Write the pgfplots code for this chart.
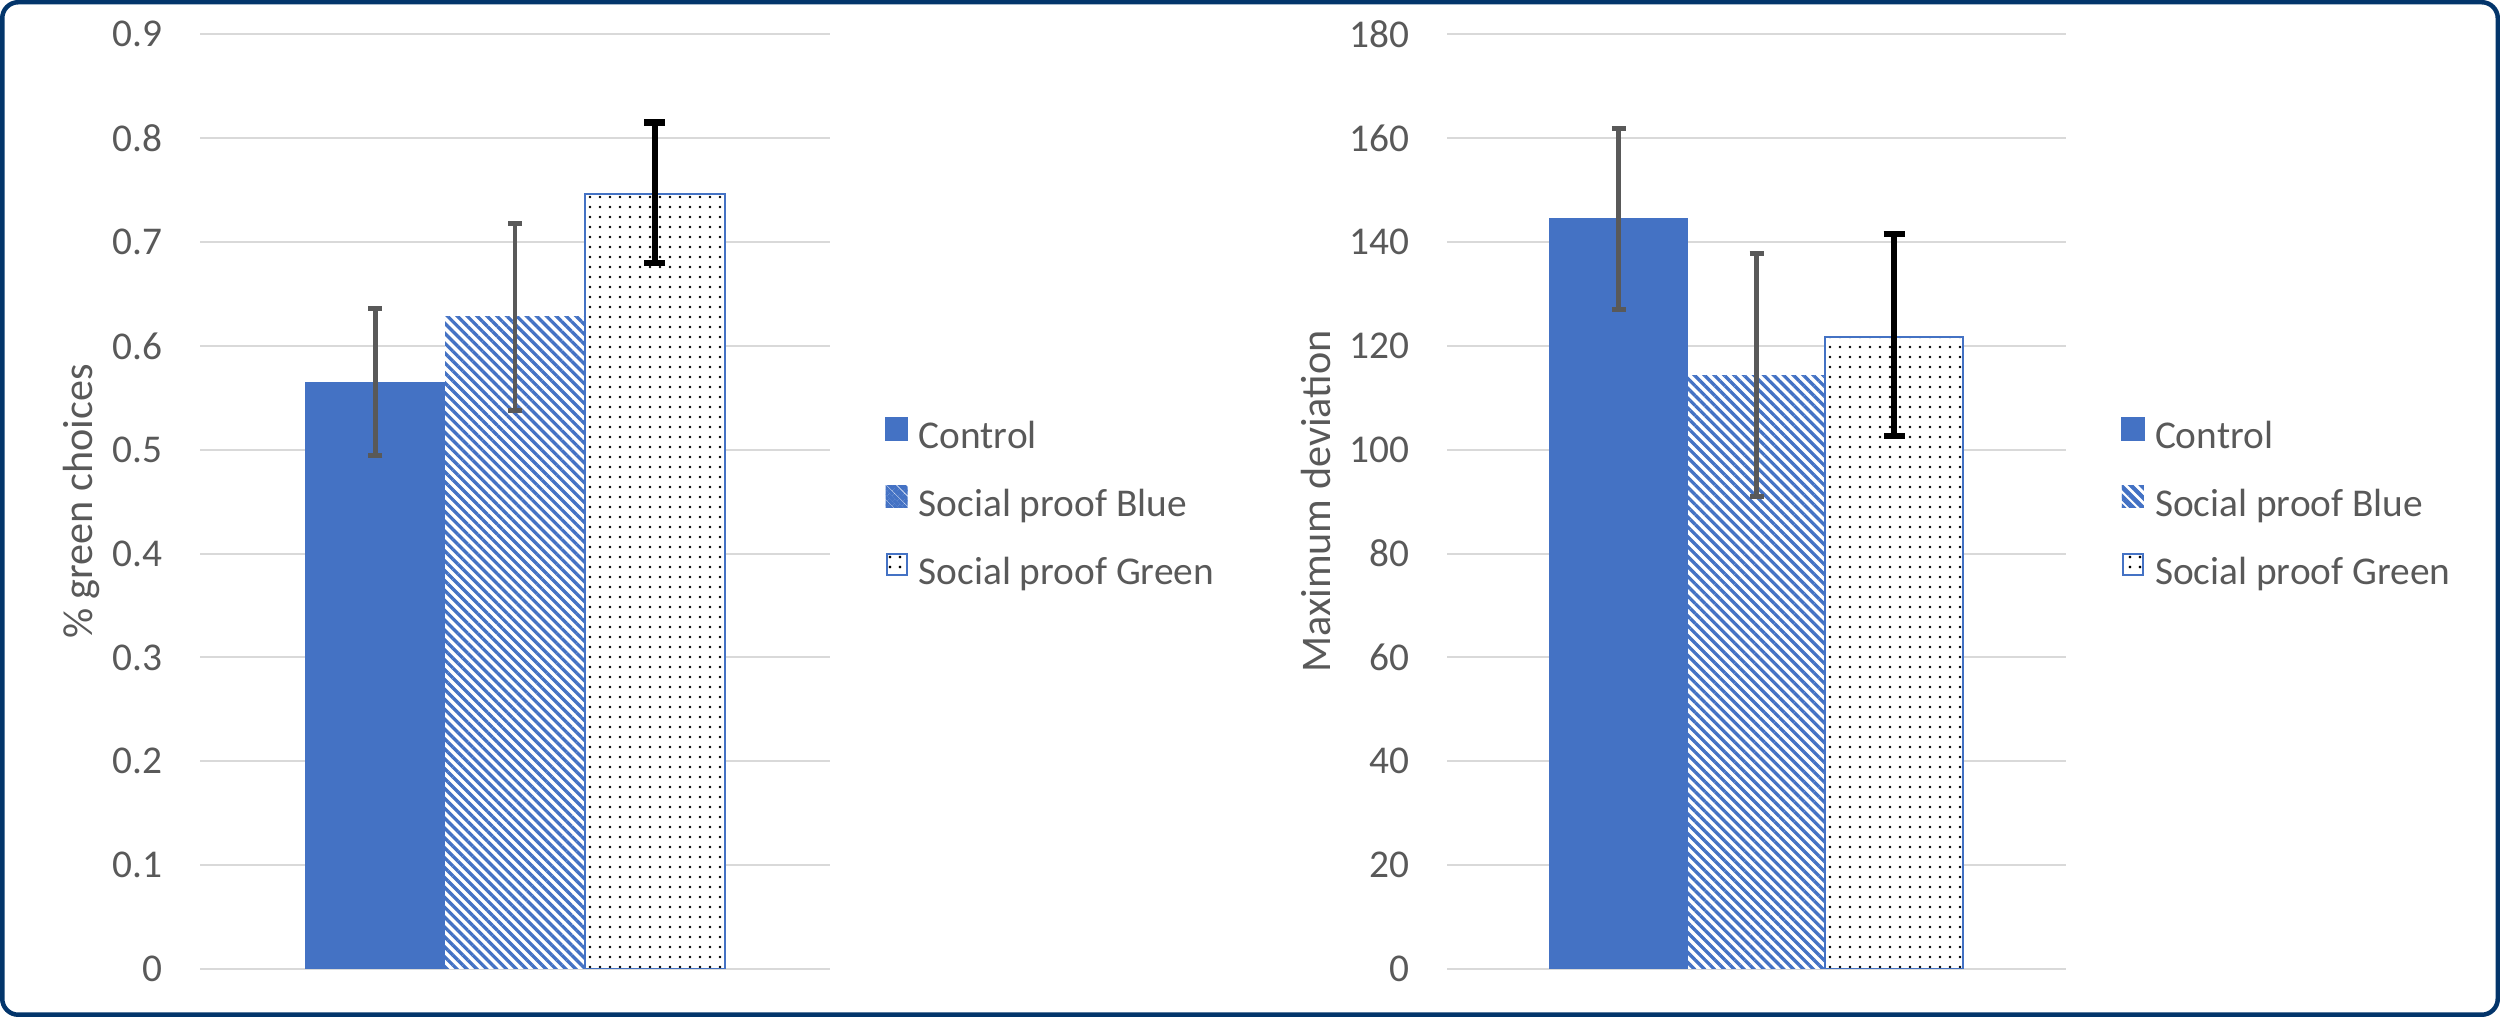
\documentclass[border=0pt]{standalone}
\usepackage{fontspec}
\setmainfont{Carlito}
\usepackage{pgfplots}
\pgfplotsset{compat=1.18}
\usetikzlibrary{patterns.meta}

\definecolor{ctrl}{HTML}{4472C4}
\definecolor{gridc}{HTML}{D9D9D9}
\definecolor{txt}{HTML}{595959}
\definecolor{framec}{HTML}{03356B}

\pgfplotsset{
  panel/.style={
    scale only axis, height=93.47mm,
    ybar, bar width=1, bar shift=0pt,
    ymin=0,
    ymajorgrids, grid style={gridc, line width=0.2mm},
    axis line style={draw=none},
    xtick=\empty, major tick length=0pt,
    /pgf/number format/assume math mode=true,
    yticklabel style={font=\fontsize{11.2}{13}\selectfont, text=txt, anchor=east, inner sep=0pt, xshift=-3.7mm},
    ylabel style={font=\fontsize{12}{14}\selectfont, text=txt, anchor=base},
    legend cell align=left,
    legend style={draw=none, fill=none, inner sep=0pt, outer sep=0pt,
      anchor=north west,
      font=\fontsize{11.2}{13}\selectfont, text=txt, row sep=2.85mm,
      nodes={inner sep=0pt, outer sep=0pt, text height=2.55mm, text depth=0.8mm},
      /tikz/every odd column/.append style={column sep=1.05mm}},
  },
  ctrlbar/.style={fill=ctrl, draw=ctrl,
    legend image code/.code={\fill[ctrl] (0mm,0mm) rectangle (2.2mm,2.25mm);}},
  bluebar/.style={fill=white, draw=none,
    postaction={pattern={Lines[angle=-45, distance=0.7mm, line width=0.33mm]}, pattern color=ctrl},
    legend image code/.code={\path[pattern={Lines[angle=-45, distance=0.75mm, line width=0.38mm]}, pattern color=ctrl] (0mm,0mm) rectangle (2.2mm,2.25mm);}},
  greenbar/.style={fill=white, draw=ctrl, line width=0.2mm,
    postaction={pattern={Dots[distance=1mm, radius=0.14mm]}, pattern color=black},
    legend image code/.code={\draw[ctrl, line width=0.2mm, fill=white, postaction={pattern={Dots[distance=1mm, radius=0.14mm]}, pattern color=black}] (0.1mm,0.1mm) rectangle (2.1mm,2.15mm);}},
  grayerr/.style={error bars/.cd, y dir=both, y explicit,
    error bar style={line width=1.4pt, txt},
    error mark options={rotate=90, line width=1.4pt, txt, mark size=0.7mm}},
  blackerr/.style={error bars/.cd, y dir=both, y explicit,
    error bar style={line width=1.8pt, black},
    error mark options={rotate=90, line width=1.8pt, black, mark size=1.05mm}},
}

\begin{document}
\begin{tikzpicture}
\useasboundingbox (0,0) rectangle (250mm,101.7mm);
\draw[framec, line width=0.45mm, rounded corners=1.6mm] (0.225mm,0.225mm) rectangle (249.775mm,101.475mm);

% left panel: share of green choices
\begin{axis}[panel, at={(20mm,4.8mm)}, anchor=south west, width=63mm,
  xmin=-2.255, xmax=2.255, ymax=0.9,
  ytick={0,0.1,0.2,0.3,0.4,0.5,0.6,0.7,0.8,0.9},
  ylabel={\% green choices},
  ylabel style={at={(axis description cs:-0.1714,0.5)}},
  legend style={at={(1.087,0.5906)}},
]
\addplot[ctrlbar, grayerr] coordinates {(-1,0.565) +- (0,0.071)};
\addplot[bluebar, grayerr] coordinates {(0,0.628) +- (0,0.090)};
\addplot[greenbar, blackerr] coordinates {(1,0.746) += (0,0.069) -= (0,0.066)};
\legend{Control, Social proof Blue, Social proof Green}
\end{axis}

% right panel: maximum deviation
\begin{axis}[panel, at={(144.7mm,4.8mm)}, anchor=south west, width=61.9mm,
  xmin=-2.248, xmax=2.248, ymax=180,
  ytick={0,20,40,60,80,100,120,140,160,180},
  ylabel={Maximum deviation},
  ylabel style={at={(axis description cs:-0.189,0.5)}},
  legend style={at={(1.089,0.5906)}},
]
\addplot[ctrlbar, grayerr] coordinates {(-1,144.4) +- (0,17.4)};
\addplot[bluebar, grayerr] coordinates {(0,114.35) +- (0,23.4)};
\addplot[greenbar, blackerr] coordinates {(1,121.7) += (0,19.9) -= (0,19.0)};
\legend{Control, Social proof Blue, Social proof Green}
\end{axis}
\end{tikzpicture}
\end{document}
